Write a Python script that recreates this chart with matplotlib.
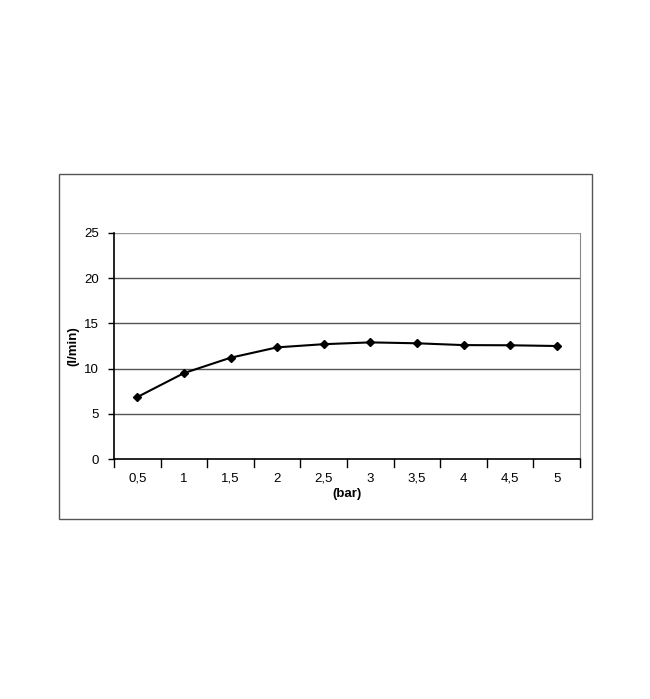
import matplotlib
matplotlib.use('Agg')
import matplotlib.pyplot as plt
from matplotlib.patches import Rectangle

plt.rcParams['font.family'] = ['Liberation Sans', 'DejaVu Sans']

# data
pressure_labels = ['0,5', '1', '1,5', '2', '2,5', '3', '3,5', '4', '4,5', '5']
flow = [6.85, 9.5, 11.2, 12.35, 12.7, 12.9, 12.8, 12.6, 12.58, 12.5]
y_ticks = [0, 5, 10, 15, 20, 25]

fig = plt.figure(figsize=(6.5, 6.99), dpi=100)

# outer frame of the chart
fig.patches.append(Rectangle((59 / 650, 1 - 519 / 699), (592 - 59) / 650, (519 - 174) / 699,
                             transform=fig.transFigure, fill=False,
                             edgecolor='#555555', linewidth=1.0))

ax = fig.add_axes([114 / 650, 1 - 459 / 699, (580 - 114) / 650, (459 - 233) / 699])

n = len(flow)
xs = list(range(n))
ax.plot(xs, flow, color='black', linewidth=1.5, marker='D', markersize=4.5,
        markerfacecolor='black', markeredgecolor='black', zorder=3)

ax.set_xlim(-0.5, n - 0.5)
ax.set_ylim(0, 25)

# horizontal grid lines
for v in y_ticks[1:]:
    ax.axhline(v, color='#555555' if v < 25 else '#999999', linewidth=1.0, zorder=1)

ax.set_yticks(y_ticks)
ax.set_yticklabels([str(v) for v in y_ticks], fontsize=9.5)
ax.set_xticks(xs)
ax.set_xticklabels(pressure_labels, fontsize=9.5)
ax.tick_params(axis='x', length=0, pad=10)
ax.tick_params(axis='y', length=4, width=1.0, pad=7, direction='out')

# tick marks between categories on the x axis
for b in range(n + 1):
    ax.plot([b - 0.5, b - 0.5], [0, -0.9], color='black', linewidth=1.0,
            clip_on=False, zorder=4)

ax.spines['top'].set_visible(False)
ax.spines['right'].set_color('#888888')
ax.spines['left'].set_color('black')
ax.spines['bottom'].set_color('black')
ax.spines['left'].set_linewidth(1.2)
ax.spines['bottom'].set_linewidth(1.2)

ax.set_xlabel('(bar)', fontsize=9.5, fontweight='bold', labelpad=2)
ax.set_ylabel('(l/min)', fontsize=9.5, fontweight='bold', labelpad=3)

fig.savefig('out.png', dpi=100)
